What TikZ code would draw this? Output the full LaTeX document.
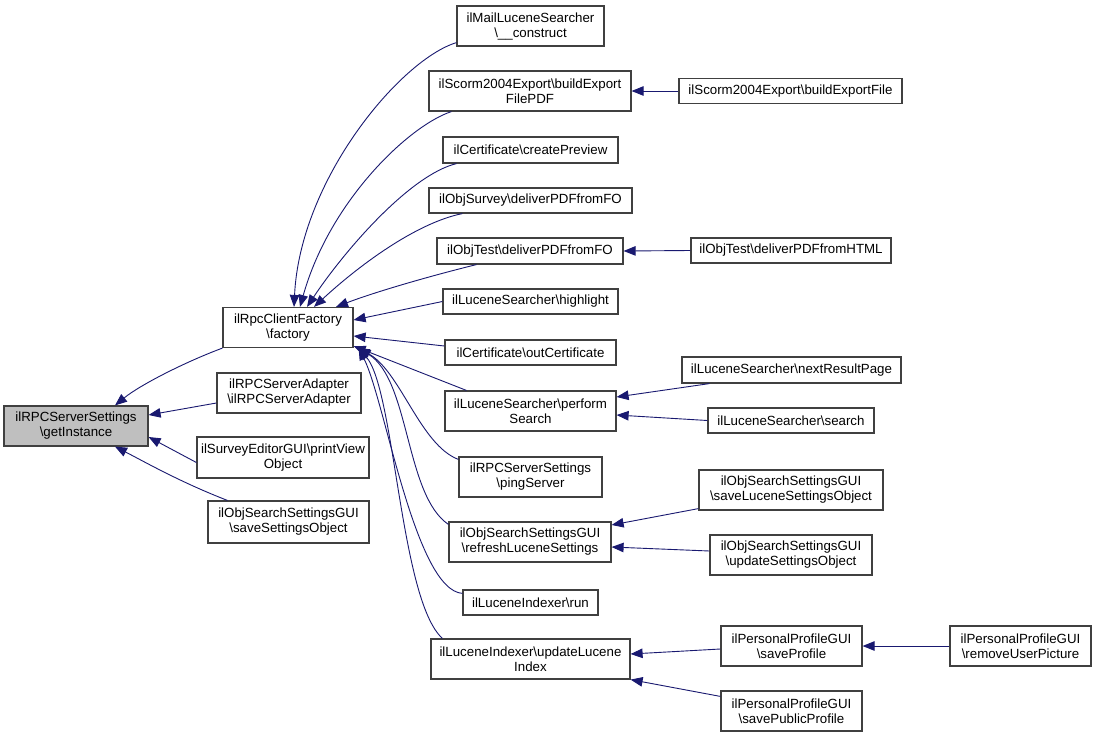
\documentclass[tikz,border=0pt]{standalone}
\usepackage{fontspec}
\setmainfont{Liberation Sans}
\usetikzlibrary{arrows.meta}
\definecolor{edgecol}{HTML}{191970}
\definecolor{boxfill}{HTML}{BFBFBF}
\begin{document}
\begin{tikzpicture}[x=1pt,y=-1pt,
 box/.style={draw=black!75, line width=1.2pt, fill=white, inner sep=0pt, align=center, font=\fontsize{13.3}{15}\selectfont},
 sz/.style 2 args={minimum width=#1pt, minimum height=#2pt},
 edge/.style={draw=edgecol, line width=0.9pt, -{Triangle[length=12pt,width=9.5pt]}}]
\useasboundingbox (0,0) rectangle (1096,737);
\fill[white] (0,0) rectangle (1096,737);
% column 1
\node[box, sz={144}{40}, fill=boxfill] (gi) at (76,426) {ilRPCServerSettings\\\textbackslash getInstance};
% column 2
\node[box, sz={130}{40}] (fac) at (288,327.5) {ilRpcClientFactory\\\textbackslash factory};
\node[box, sz={144}{40}] (adp) at (289,393) {ilRPCServerAdapter\\\textbackslash ilRPCServerAdapter};
\node[box, sz={172}{41}] (pv) at (283,457.5) {ilSurveyEditorGUI\textbackslash printView\\Object};
\node[box, sz={161}{42}] (ss) at (288.5,522) {ilObjSearchSettingsGUI\\\textbackslash saveSettingsObject};
% column 3
\node[box, sz={147}{40}] (mail) at (530.5,26) {ilMailLuceneSearcher\\\textbackslash\_\_construct};
\node[box, sz={202}{40}] (scorm) at (530,91) {ilScorm2004Export\textbackslash buildExport\\FilePDF};
\node[box, sz={175}{26}] (cert) at (530.5,150) {ilCertificate\textbackslash createPreview};
\node[box, sz={203}{25}] (surv) at (530.5,200.5) {ilObjSurvey\textbackslash deliverPDFfromFO};
\node[box, sz={186}{26}] (otfo) at (530,251) {ilObjTest\textbackslash deliverPDFfromFO};
\node[box, sz={175}{25}] (hl) at (530.5,301.5) {ilLuceneSearcher\textbackslash highlight};
\node[box, sz={171}{25}] (oc) at (530.5,352.5) {ilCertificate\textbackslash outCertificate};
\node[box, sz={171}{40}] (perf) at (530.5,411) {ilLuceneSearcher\textbackslash perform\\Search};
\node[box, sz={143}{40}] (ping) at (530.5,477) {ilRPCServerSettings\\\textbackslash pingServer};
\node[box, sz={162}{40}] (refr) at (530,542) {ilObjSearchSettingsGUI\\\textbackslash refreshLuceneSettings};
\node[box, sz={135}{25}] (run) at (530.5,602.5) {ilLuceneIndexer\textbackslash run};
\node[box, sz={199}{40}] (upd) at (530.5,659) {ilLuceneIndexer\textbackslash updateLucene\\Index};
% column 4
\node[box, sz={223}{25}] (bef) at (790.5,91) {ilScorm2004Export\textbackslash buildExportFile};
\node[box, sz={200}{25}] (html) at (791,250.5) {ilObjTest\textbackslash deliverPDFfromHTML};
\node[box, sz={219}{26}] (next) at (791.5,370) {ilLuceneSearcher\textbackslash nextResultPage};
\node[box, sz={166}{25}] (srch) at (791,420.5) {ilLuceneSearcher\textbackslash search};
\node[box, sz={184}{40}] (sl) at (791,490) {ilObjSearchSettingsGUI\\\textbackslash saveLuceneSettingsObject};
\node[box, sz={162}{40}] (us) at (791,555) {ilObjSearchSettingsGUI\\\textbackslash updateSettingsObject};
\node[box, sz={141}{40}] (sp) at (791.5,646) {ilPersonalProfileGUI\\\textbackslash saveProfile};
\node[box, sz={141}{40}] (spp) at (791.5,711) {ilPersonalProfileGUI\\\textbackslash savePublicProfile};
% column 5
\node[box, sz={141}{40}] (ru) at (1020.5,646) {ilPersonalProfileGUI\\\textbackslash removeUserPicture};
% edges to getInstance
\draw[edge] (fac.south west) .. controls (185,362) and (140,385) .. ([xshift=39pt]gi.north);
\draw[edge] ([yshift=-10pt]adp.west) -- ([yshift=11pt]gi.east);
\draw[edge] ([yshift=-5pt]pv.west) -- ([yshift=-11pt]gi.east);
\draw[edge] ([xshift=20pt]ss.north west) .. controls (180,482) and (145,462) .. ([xshift=39pt]gi.south);
% edges to factory
\draw[edge] ([yshift=4pt]mail.south west) .. controls (400,60) and (300,180) .. ([xshift=6pt]fac.north);
\draw[edge] ([xshift=23pt]scorm.south west) .. controls (410,125) and (330,200) .. ([xshift=12pt]fac.north);
\draw[edge] ([xshift=14pt]cert.south west) .. controls (410,175) and (345,250) .. ([xshift=19pt]fac.north);
\draw[edge] ([xshift=34pt]surv.south west) .. controls (420,222) and (365,260) .. ([xshift=26pt]fac.north);
\draw[edge] ([xshift=40pt]otfo.south west) .. controls (430,276) and (375,292) .. ([xshift=48pt]fac.north);
\draw[edge] (hl.west) -- ([yshift=7.5pt]fac.east);
\draw[edge] ([yshift=6.5pt]oc.west) -- ([yshift=-8.5pt]fac.east);
\draw[edge] ([xshift=22pt]perf.north west) -- ([yshift=2pt]fac.south east);
\draw[edge] ([yshift=-3pt]ping.north west) .. controls (420,445) and (400,370) .. ([xshift=4pt]fac.south east);
\draw[edge] ([yshift=-3pt]refr.north west) .. controls (405,495) and (410,380) .. ([xshift=5pt]fac.south east);
\draw[edge] ([yshift=-4pt]run.north west) .. controls (415,590) and (385,400) .. ([xshift=5pt]fac.south east);
\draw[edge] ([xshift=12pt]upd.north west) .. controls (400,600) and (395,390) .. ([xshift=5pt]fac.south east);
% right side
\draw[edge] (bef.west) -- (scorm.east);
\draw[edge] (html.west) -- (otfo.east);
\draw[edge] ([xshift=28pt]next.south west) -- ([yshift=14pt]perf.east);
\draw[edge] (srch.west) -- ([yshift=-4pt]perf.east);
\draw[edge] ([yshift=2pt]sl.south west) -- ([yshift=17pt]refr.east);
\draw[edge] ([yshift=4pt]us.west) -- ([yshift=-5pt]refr.east);
\draw[edge] ([yshift=-3pt]sp.west) -- ([yshift=5pt]upd.east);
\draw[edge] ([yshift=-6pt]spp.north west) -- (upd.south east);
\draw[edge] (ru.west) -- (sp.east);
\end{tikzpicture}
\end{document}
